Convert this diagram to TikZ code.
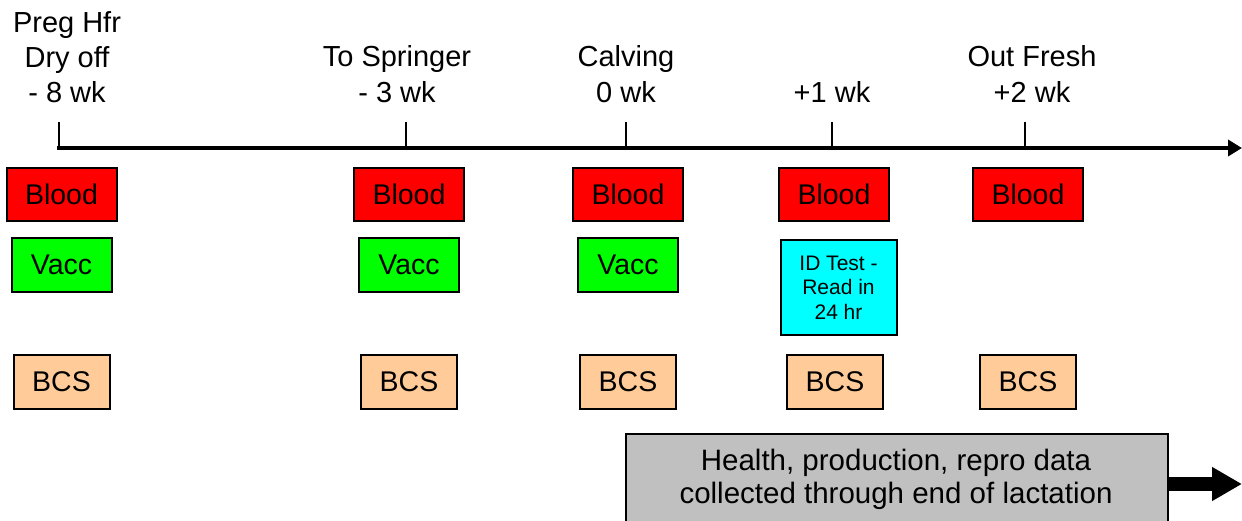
\documentclass[tikz,border=0pt]{standalone}
\usepackage{fontspec}
\setmainfont{Liberation Sans}
\usetikzlibrary{arrows.meta}
\definecolor{peach}{HTML}{FFCC99}
\definecolor{grayb}{HTML}{C0C0C0}
\definecolor{redb}{HTML}{FF0000}
\definecolor{greenb}{HTML}{00FF00}
\definecolor{cyanb}{HTML}{00FFFF}
\tikzset{
  box/.style={draw=black, line width=2pt, inner sep=0pt, font=\fontsize{28.5}{32}\selectfont},
  blood/.style={box, fill=redb, minimum width=110pt, minimum height=53pt},
  vacc/.style={box, fill=greenb, minimum width=100pt, minimum height=54pt},
  bcs/.style={box, fill=peach, minimum width=96pt, minimum height=54pt},
  idt/.style={box, fill=cyanb, minimum width=116pt, minimum height=95pt, align=center, font=\fontsize{21}{24.5}\selectfont},
  lbl/.style={inner sep=0pt, anchor=base, font=\fontsize{29}{36}\selectfont},
  tick/.style={line width=1.5pt},
}
\begin{document}
\begin{tikzpicture}[x=1pt,y=-1pt]
\useasboundingbox (0,0) rectangle (1242,520);
\clip (0,0) rectangle (1242,520);
% timeline
\coordinate (a0) at (57,148);
\coordinate (aend) at (1242,148);
\draw[line width=4.5pt, -{Triangle[length=14pt,width=16pt]}] (a0) -- (aend);
\foreach \n/\x in {t1/59, t2/406, t3/626, t4/832, t5/1025} {
  \coordinate (\n top) at (\x,122);
  \coordinate (\n) at (\x,148);
  \draw[tick] (\n top) -- (\n);
}
% labels
\node[lbl] (l1a) at (67,32) {Preg Hfr};
\node[lbl] (l1b) at (67,67) {Dry off};
\node[lbl] (l1c) at (67,102) {- 8 wk};
\node[lbl] (l2b) at (397,66) {To Springer};
\node[lbl] (l2c) at (397,102) {- 3 wk};
\node[lbl] (l3b) at (626,66) {Calving};
\node[lbl] (l3c) at (626,102) {0 wk};
\node[lbl] (l4c) at (832,102) {+1 wk};
\node[lbl] (l5b) at (1032,66) {Out Fresh};
\node[lbl] (l5c) at (1032,102) {+2 wk};
% blood
\node[blood] (b1) at (61.5,194.5) {Blood};
\node[blood] (b2) at (409,194.5) {Blood};
\node[blood] (b3) at (628,194.5) {Blood};
\node[blood] (b4) at (834,194.5) {Blood};
\node[blood] (b5) at (1028,194.5) {Blood};
% vacc
\node[vacc] (v1) at (61.5,265) {Vacc};
\node[vacc] (v2) at (409,265) {Vacc};
\node[vacc] (v3) at (628,265) {Vacc};
\node[idt] (id) at (838.5,287.5) {ID Test -\\Read in\\24 hr};
% bcs
\node[bcs] (c1) at (61.5,381.5) {BCS};
\node[bcs] (c2) at (409,381.5) {BCS};
\node[bcs] (c3) at (628,381.5) {BCS};
\node[bcs] (c4) at (835,381.5) {BCS};
\node[bcs] (c5) at (1028,381.5) {BCS};
% gray box
\node[box, fill=grayb, minimum width=542pt, minimum height=100pt, anchor=north west] (g) at (625,433) {};
\node[lbl, font=\fontsize{29.5}{33}\selectfont] (gt1) at (896,470) {Health, production, repro data};
\node[lbl, font=\fontsize{29.5}{33}\selectfont] (gt2) at (896,503) {collected through end of lactation};
\coordinate (gend) at (1242,484);
\draw[line width=14pt, -{Triangle[length=30pt,width=32pt]}] (g.east |- gend) -- (gend);
\end{tikzpicture}
\end{document}
